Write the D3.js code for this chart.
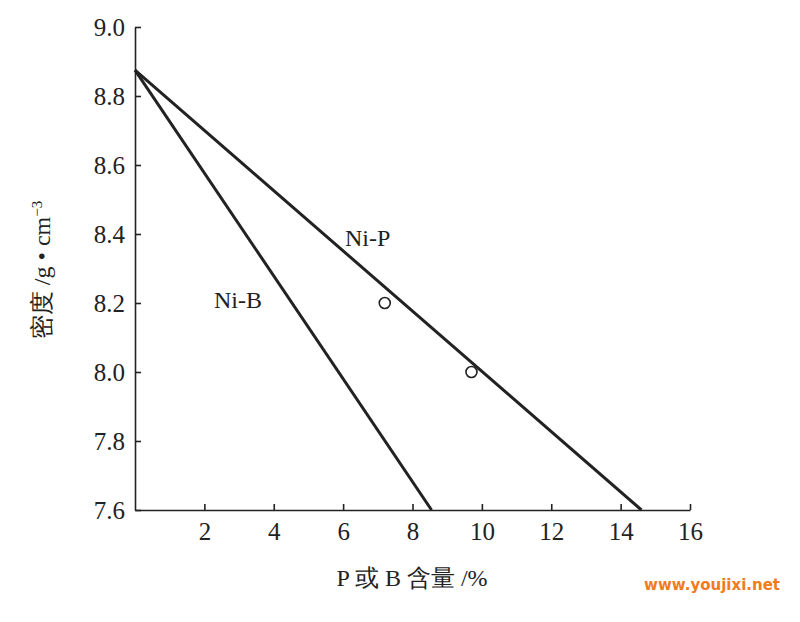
<!DOCTYPE html>
<html><head><meta charset="utf-8">
<script src="https://cdn.jsdelivr.net/npm/d3@7"></script>
<style>body{margin:0;background:#fff}</style>
</head><body>
<script>
// data
var xTicks = [2, 4, 6, 8, 10, 12, 14, 16];
var yTicks = [7.6, 7.8, 8.0, 8.2, 8.4, 8.6, 8.8, 9.0];
var lineNiB = [[0, 8.875], [8.55, 7.6]];
var lineNiP = [[0, 8.875], [14.6, 7.6]];
var points = [[7.2, 8.2], [9.7, 8.0]];

var svg = d3.select("body").append("svg").attr("width", 800).attr("height", 622);
var x = d3.scaleLinear().domain([0, 16]).range([135, 690]);
var y = d3.scaleLinear().domain([7.6, 9.0]).range([510, 27]);
var serif = "'Liberation Serif','Times New Roman',Times,serif";

var ax = svg.append("g").attr("transform", "translate(0,510)")
  .call(d3.axisBottom(x).tickValues(xTicks).tickSizeInner(-6).tickSizeOuter(0).tickPadding(12));
var ay = svg.append("g").attr("transform", "translate(135,0)")
  .call(d3.axisLeft(y).tickValues(yTicks).tickSizeInner(-6).tickSizeOuter(0).tickPadding(10).tickFormat(d3.format(".1f")));
[ax, ay].forEach(function (g) {
  g.selectAll("path,line").attr("stroke", "#222").attr("stroke-width", 1.6);
  g.selectAll("text").attr("fill", "#222").attr("font-family", serif).attr("font-size", 25);
});

var line = d3.line().x(function (d) { return x(d[0]); }).y(function (d) { return y(d[1]); });
[lineNiB, lineNiP].forEach(function (l) {
  svg.append("path").attr("d", line(l)).attr("fill", "none").attr("stroke", "#222").attr("stroke-width", 3);
});
svg.selectAll(".pt").data(points).enter().append("circle")
  .attr("cx", function (d) { return x(d[0]); }).attr("cy", function (d) { return y(d[1]); })
  .attr("r", 5.5).attr("fill", "#fff").attr("stroke", "#222").attr("stroke-width", 1.6);

svg.append("text").attr("x", 345).attr("y", 246).text("Ni-P")
  .attr("font-family", serif).attr("font-size", 24).attr("fill", "#222");
svg.append("text").attr("x", 214).attr("y", 308).text("Ni-B")
  .attr("font-family", serif).attr("font-size", 24).attr("fill", "#222");

svg.append("text").attr("x", 412).attr("y", 586).attr("text-anchor", "middle")
  .attr("font-family", serif).attr("font-size", 24).attr("fill", "#222").text("P 或 B 含量 /%");
var yl = svg.append("text").attr("transform", "translate(50,270) rotate(-90)").attr("text-anchor", "middle")
  .attr("font-family", serif).attr("font-size", 24).attr("fill", "#222");
yl.append("tspan").text("密度 /g • cm");
yl.append("tspan").attr("dy", -8).attr("font-size", 15).text("−3");

svg.append("text").attr("x", 780).attr("y", 590).attr("text-anchor", "end")
  .attr("font-family", "'DejaVu Sans',sans-serif").attr("font-weight", "bold").attr("font-size", 15)
  .attr("fill", "#f07c1c").text("www.youjixi.net");
</script>
</body></html>
